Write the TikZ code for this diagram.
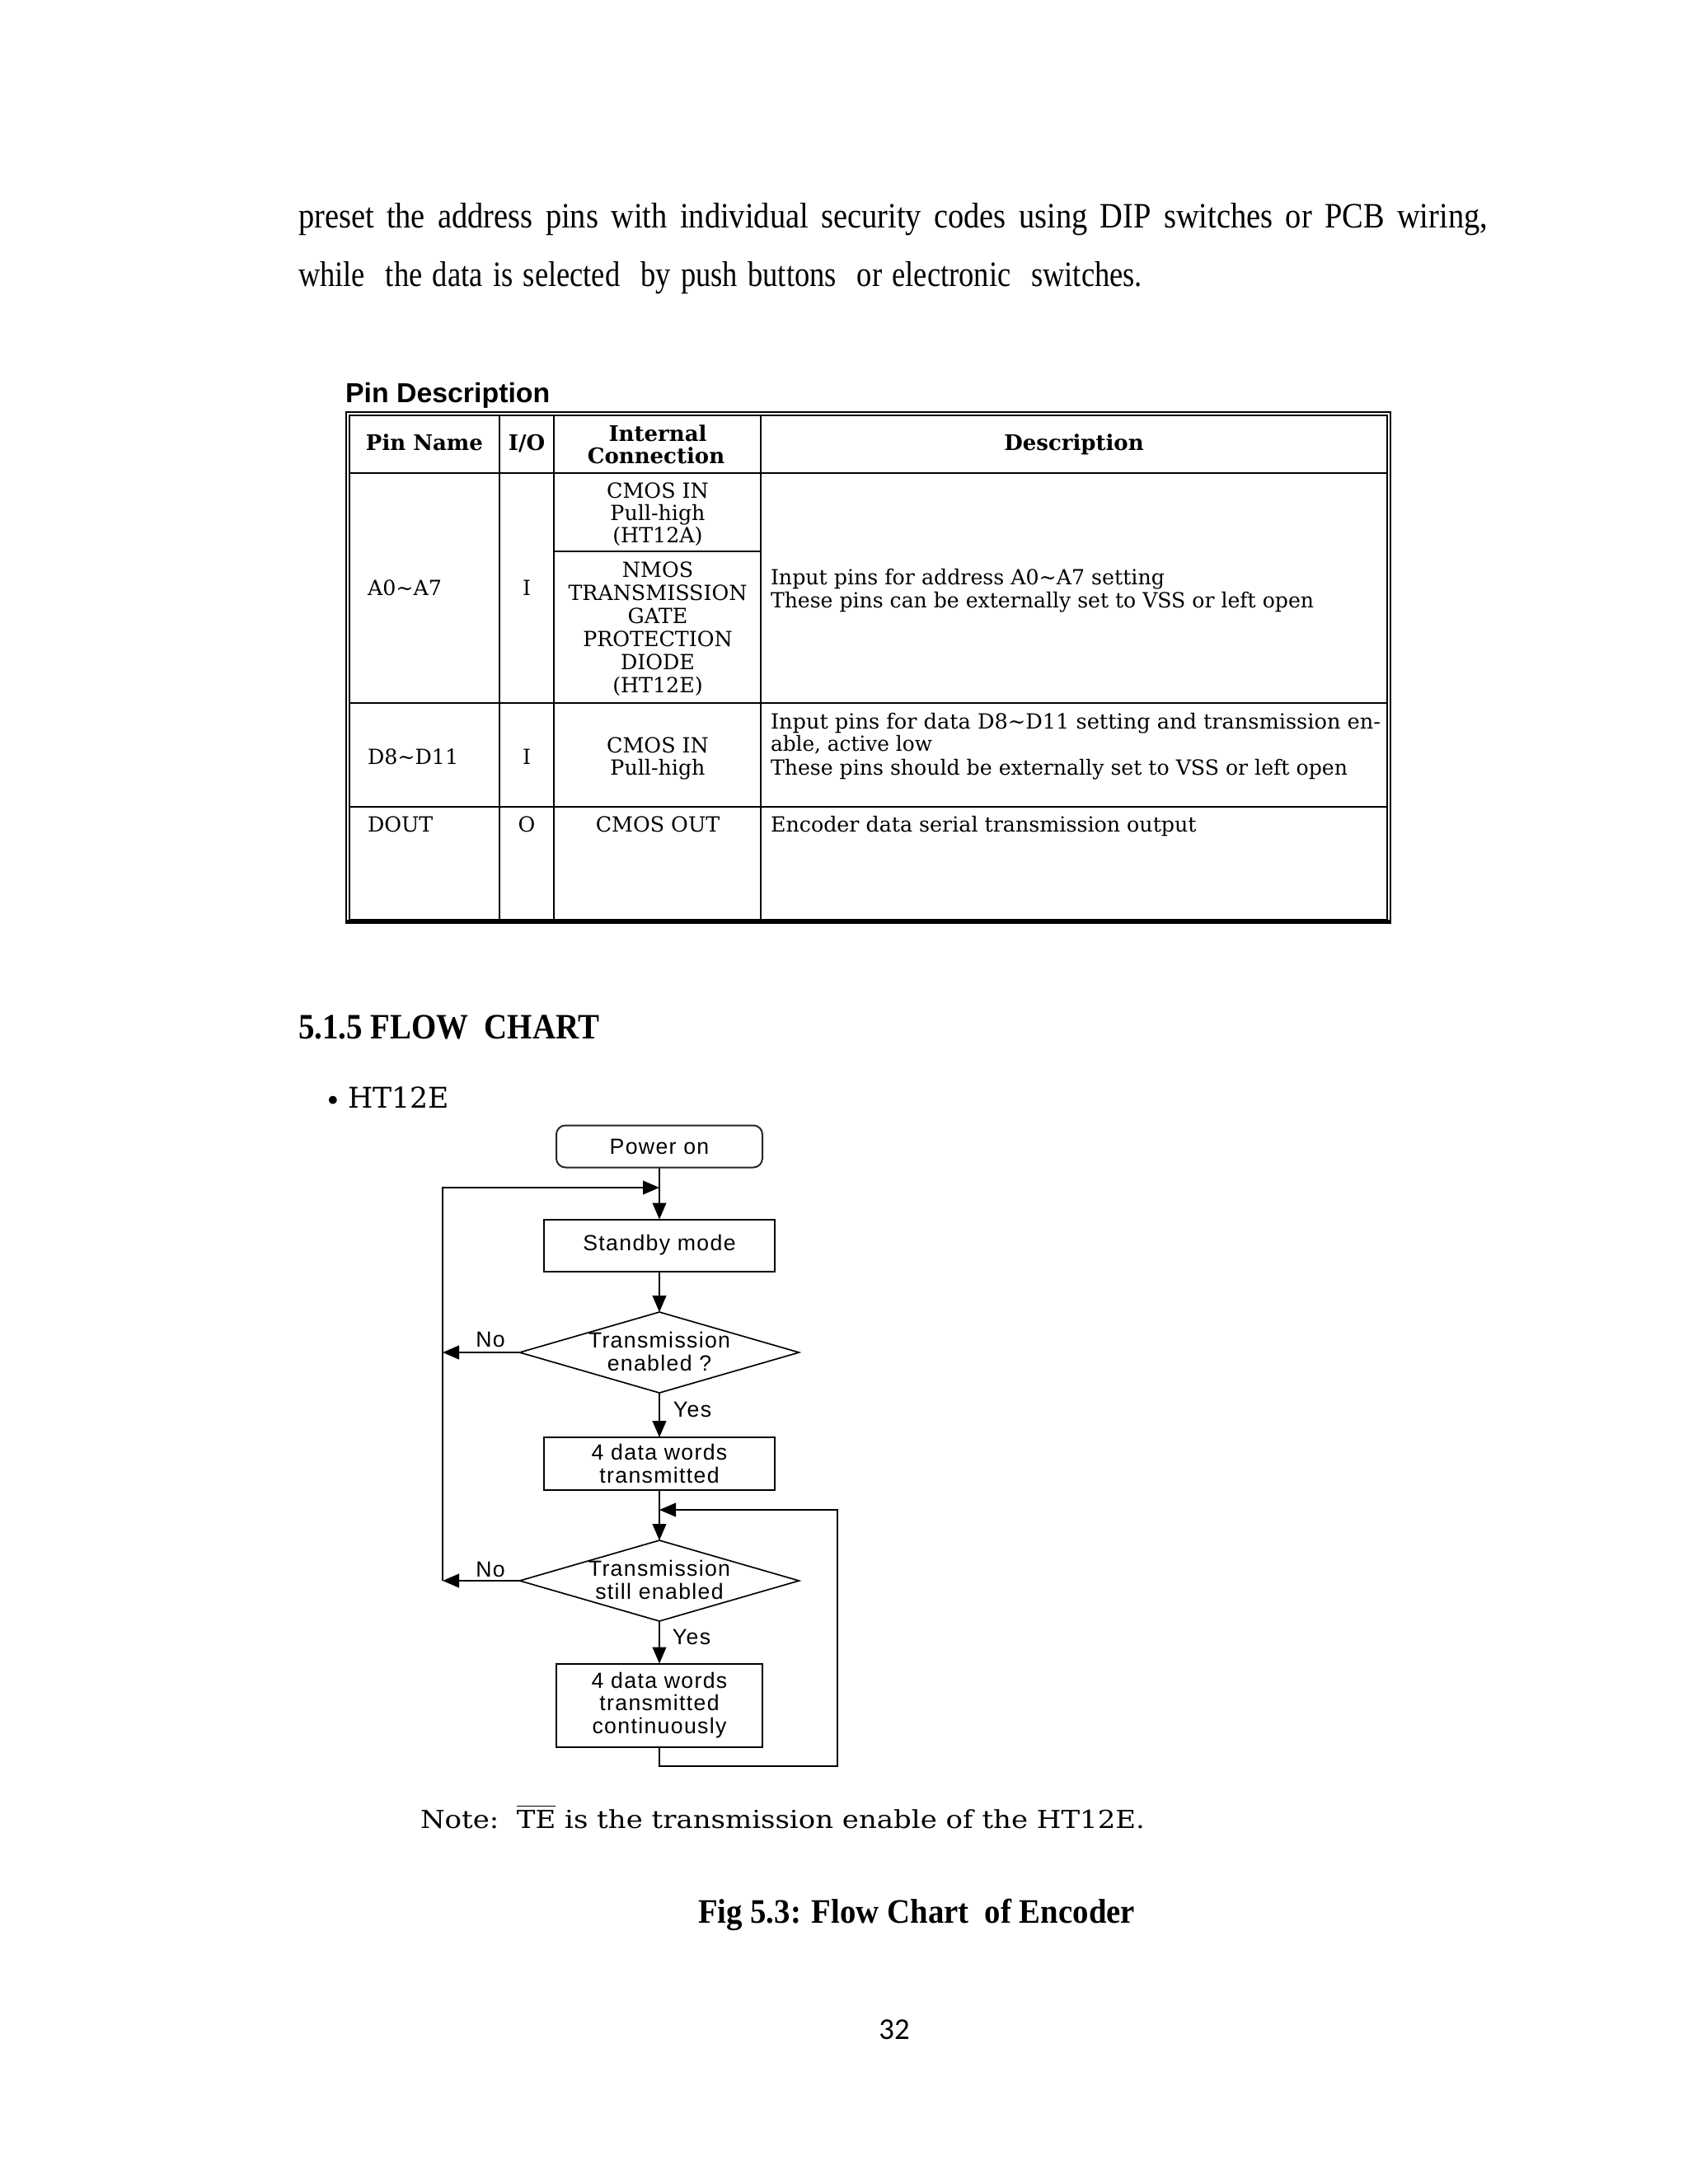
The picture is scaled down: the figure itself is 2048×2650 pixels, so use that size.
\documentclass[tikz,border=0pt]{standalone}
\usepackage{fontspec}
\usepackage{graphicx}
\setmainfont{Liberation Serif}
\newfontfamily\tabfont{DejaVu Serif}
\newfontfamily\hdfont{Liberation Sans}
\newfontfamily\fcfont[LetterSpace=5]{Liberation Sans}
\newfontfamily\pgfont{Carlito}
\usetikzlibrary{arrows.meta,shapes.geometric}
\newcommand\fitw[2]{\resizebox{#1}{\height}{#2}}
\begin{document}
\begin{tikzpicture}[x=0.3pt,y=-0.3pt,
  every node/.style={inner sep=0pt, outer sep=0pt},
  body/.style={anchor=base west, font=\fontsize{13}{15}\selectfont},
  tabtxt/.style={anchor=base, font=\tabfont\fontsize{7.6}{9}\selectfont},
  tabtxtl/.style={anchor=base west, font=\tabfont\fontsize{7.6}{9}\selectfont},
  tabhead/.style={anchor=base, font=\tabfont\bfseries\fontsize{7.8}{9}\selectfont},
  grid/.style={line width=0.6pt},
  dbl/.style={line width=0.45pt},
  fcbox/.style={draw, line width=0.6pt, rectangle, align=center, font=\fcfont\fontsize{8}{8.2}\selectfont},
  fcdia/.style={draw, line width=0.5pt, diamond, minimum width=339*0.3pt, minimum height=98*0.3pt},
  fctext/.style={align=center, font=\fcfont\fontsize{8}{8.2}\selectfont},
  arr/.style={line width=0.6pt, -{Triangle[length=6pt,width=5pt]}},
]
\useasboundingbox (0,0) rectangle (2048,2650);

% paragraph
\node[body] (p1) at (362,276) {\fitw{432.9pt}{\spaceskip=0.4em preset the address pins with individual security codes using DIP switches or PCB wiring,}};
\node[body] (p2) at (362,347) {\fitw{307.2pt}{\spaceskip=0.34em while\ \ the data is selected\ \ by push buttons\ \ or electronic\ \ switches.}};

% pin description table
\node[anchor=base west, font=\hdfont\bfseries\fontsize{10}{12}\selectfont] (pd) at (419,488) {\fitw{74.5pt}{Pin Description}};
\draw[dbl] (420,500) rectangle (1687,1120);
\draw[dbl] (424,504) rectangle (1683,1116);
\draw[line width=1.3pt] (420,1118) -- (1687,1118);
\draw[grid] (606,504) -- (606,1116);
\draw[grid] (672,504) -- (672,1116);
\draw[grid] (923,504) -- (923,1116);
\draw[grid] (424,574) -- (1683,574);
\draw[grid] (424,853) -- (1683,853);
\draw[grid] (424,979) -- (1683,979);
\draw[grid] (672,669) -- (923,669);

\node[tabhead] (hpn) at (515,546) {Pin Name};
\node[tabhead] (hio) at (639,546) {I/O};
\node[tabhead] (hic1) at (798,535) {Internal};
\node[tabhead] (hic2) at (796,562) {Connection};
\node[tabhead] (hde) at (1303,546) {Description};

\node[tabtxtl] (a0) at (446,722) {A0\textasciitilde A7};
\node[tabtxt] (a0io) at (639,722) {I};
\node[tabtxt] (a0c1) at (798,604) {CMOS IN};
\node[tabtxt] (a0c2) at (798,631) {Pull-high};
\node[tabtxt] (a0c3) at (798,658) {(HT12A)};
\node[tabtxt] (a0n1) at (798,700) {NMOS};
\node[tabtxt] (a0n2) at (798,728) {TRANSMISSION};
\node[tabtxt] (a0n3) at (798,756) {GATE};
\node[tabtxt] (a0n4) at (798,784) {PROTECTION};
\node[tabtxt] (a0n5) at (798,812) {DIODE};
\node[tabtxt] (a0n6) at (798,840) {(HT12E)};
\node[tabtxtl] (a0d1) at (935,709) {\fitw{143.4pt}{Input pins for address A0\textasciitilde A7 setting}};
\node[tabtxtl] (a0d2) at (935,737) {\fitw{197.7pt}{These pins can be externally set to VSS or left open}};

\node[tabtxtl] (d8) at (446,927) {D8\textasciitilde D11};
\node[tabtxt] (d8io) at (639,927) {I};
\node[tabtxt] (d8c1) at (798,913) {CMOS IN};
\node[tabtxt] (d8c2) at (798,940) {Pull-high};
\node[tabtxtl] (d8d1) at (935,884) {\fitw{222pt}{Input pins for data D8\textasciitilde D11 setting and transmission en-}};
\node[tabtxtl] (d8d2) at (935,911) {\fitw{58.8pt}{able, active low}};
\node[tabtxtl] (d8d3) at (935,940) {\fitw{210pt}{These pins should be externally set to VSS or left open}};

\node[tabtxtl] (dout) at (446,1009) {DOUT};
\node[tabtxt] (doutio) at (639,1009) {O};
\node[tabtxt] (doutc) at (798,1009) {CMOS OUT};
\node[tabtxtl] (doutd) at (935,1009) {\fitw{155pt}{Encoder data serial transmission output}};

% section heading
\node[anchor=base west, font=\bfseries\fontsize{13}{15}\selectfont] (sec) at (362,1260) {\fitw{109.5pt}{5.1.5 FLOW\ \ CHART}};
\node[font=\tabfont\fontsize{10}{12}\selectfont] (bul) at (404,1339) {•};
\node[anchor=base west, font=\tabfont\fontsize{10.4}{12}\selectfont] (ht) at (422,1344) {HT12E};

% flow chart
\node[fcbox, rounded corners=3.3pt, minimum width=250*0.3pt, minimum height=51*0.3pt, draw=black!85] (pw) at (800,1391) {Power on};
\node[fcbox, minimum width=280*0.3pt, minimum height=63*0.3pt] (sb) at (800,1511) {Standby mode};
\node[fcdia] (d1) at (800,1641) {};
\node[fctext] (d1t) at (800,1640) {Transmission\\enabled ?};
\node[fcbox, minimum width=280*0.3pt, minimum height=64*0.3pt] (b3) at (800,1776) {4 data words\\transmitted};
\node[fcdia] (d2) at (800,1918) {};
\node[fctext] (d2t) at (800,1917) {Transmission\\still enabled};
\node[fcbox, minimum width=250*0.3pt, minimum height=101*0.3pt] (b4) at (800,2069) {4 data words\\transmitted\\continuously};

\coordinate (lt) at (537,1441);
\coordinate (rt) at (1016,1832);
\coordinate (rb) at (1016,2143);

\draw[arr] (pw) -- (sb);
\draw[arr] (lt |- d2.west) -- (lt) -- (pw.south |- lt);
\draw[arr] (sb) -- (d1);
\draw[arr] (d1.west) -- (d1.west -| lt);
\draw[arr] (d1) -- (b3);
\draw[arr] (b3) -- (d2);
\draw[arr] (d2.west) -- (d2.west -| lt);
\draw[arr] (d2) -- (b4);
\draw[arr] (b4.south) -- (b4.south |- rb) -- (rb) -- (rt) -- (b3.south |- rt);

\node[fctext] (no1) at (595,1625) {No};
\node[fctext] (no2) at (595,1904) {No};
\node[fctext] (yes1) at (840,1710) {Yes};
\node[fctext] (yes2) at (839,1986) {Yes};

% note and caption
\node[anchor=base west, font=\tabfont\fontsize{9}{11}\selectfont] (note) at (510,2218) {\fitw{263.7pt}{Note:\ \ $\overline{\hbox{TE}}$ is the transmission enable of the HT12E.}};
\node[anchor=base west, font=\bfseries\fontsize{12.5}{14}\selectfont] (cap) at (847,2333) {\fitw{159pt}{Fig 5.3: Flow Chart\ \ of Encoder}};
\node[anchor=base, font=\pgfont\fontsize{11}{13}\selectfont] (pg) at (1085,2474) {32};
\end{tikzpicture}
\end{document}
